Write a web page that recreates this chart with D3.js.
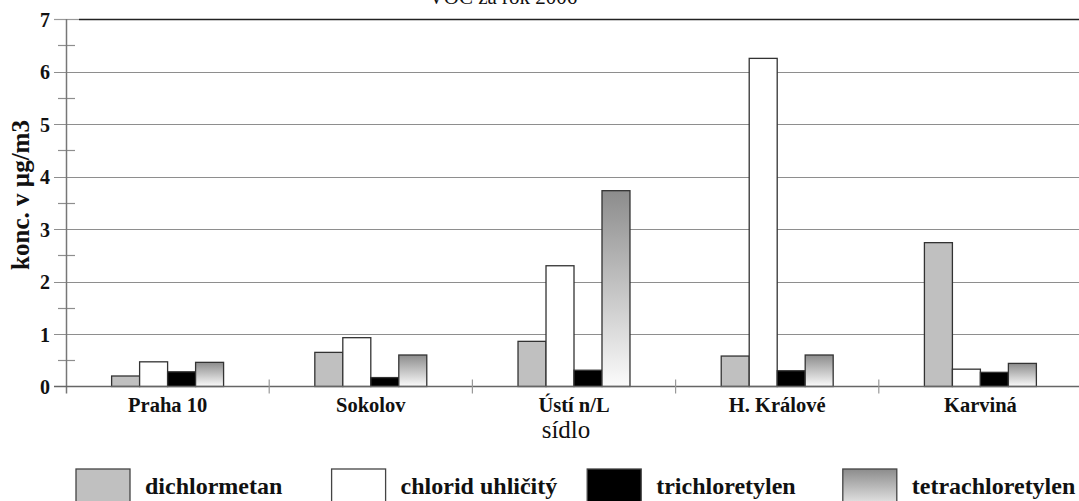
<!DOCTYPE html>
<html>
<head>
<meta charset="utf-8">
<script src="https://cdn.jsdelivr.net/npm/d3@7"></script>
<style>
  body { margin: 0; background: #fff; }
  svg { display: block; }
  text { font-family: "Liberation Serif", "Times New Roman", serif; fill: #111; }
</style>
</head>
<body>
<svg id="chart" width="1079" height="501"></svg>
<script>
// data (konc. v µg/m3)
const sites = ['Praha 10', 'Sokolov', 'Ústí n/L', 'H. Králové', 'Karviná'];
const compounds = ['dichlormetan', 'chlorid uhličitý', 'trichloretylen', 'tetrachloretylen'];
const dichlormetan = [0.20, 0.65, 0.86, 0.58, 2.74];
const chloridUhlicity = [0.47, 0.93, 2.30, 6.25, 0.33];
const trichloretylen = [0.28, 0.17, 0.31, 0.30, 0.27];
const tetrachloretylen = [0.46, 0.60, 3.73, 0.60, 0.44];
const yTicks = [0, 1, 2, 3, 4, 5, 6, 7];
const yMinorTicks = [0.5, 1.5, 2.5, 3.5, 4.5, 5.5, 6.5];
const title = 'VOC za rok 2006';
const xTitle = 'sídlo';
const yTitle = 'konc. v µg/m3';

const series = [dichlormetan, chloridUhlicity, trichloretylen, tetrachloretylen];
const fills = ['#c0c0c0', '#ffffff', '#000000', 'url(#tetra)'];

const width = 1079, height = 501;
const plot = {left: 66, right: 1082, top: 19, bottom: 386.5};

const svg = d3.select('#chart');

const defs = svg.append('defs');
const grad = defs.append('linearGradient').attr('id', 'tetra')
    .attr('x1', 0).attr('y1', 0).attr('x2', 0).attr('y2', 1);
grad.append('stop').attr('offset', '0%').attr('stop-color', '#8c8c8c');
grad.append('stop').attr('offset', '100%').attr('stop-color', '#fbfbfb');

const x0 = d3.scaleBand().domain(sites)
    .range([plot.left, plot.right])
    .paddingInner(0.449).paddingOuter(0.2245);
const x1 = d3.scaleBand().domain(compounds).range([0, x0.bandwidth()]);
const y = d3.scaleLinear().domain([0, 7]).range([plot.bottom, plot.top]);

// title, mostly cut off by the top edge
svg.append('text')
    .attr('x', 503).attr('y', 4)
    .attr('text-anchor', 'middle')
    .style('font-size', '21px')
    .text(title);

// grid lines
const grid = svg.append('g');
grid.selectAll('line.grid')
    .data(yTicks.filter(d => d > 0 && d < 7))
    .join('line').attr('class', 'grid')
    .attr('x1', 54).attr('x2', width)
    .attr('y1', d => Math.round(y(d)) + 0.5).attr('y2', d => Math.round(y(d)) + 0.5)
    .attr('stroke', '#8e8e8e').attr('stroke-width', 1.2);
// top border
grid.append('line')
    .attr('x1', 54).attr('x2', 79)
    .attr('y1', Math.round(y(7)) + 0.5).attr('y2', Math.round(y(7)) + 0.5)
    .attr('stroke', '#9a9a9a').attr('stroke-width', 1.2);
grid.append('line')
    .attr('x1', 79).attr('x2', width)
    .attr('y1', Math.round(y(7)) + 0.5).attr('y2', Math.round(y(7)) + 0.5)
    .attr('stroke', '#222').attr('stroke-width', 1.4);
// minor ticks
grid.selectAll('line.minor')
    .data(yMinorTicks)
    .join('line').attr('class', 'minor')
    .attr('x1', 58).attr('x2', 75)
    .attr('y1', d => Math.round(y(d)) + 0.5).attr('y2', d => Math.round(y(d)) + 0.5)
    .attr('stroke', '#8e8e8e').attr('stroke-width', 1.2);

// bars
const groups = svg.append('g').selectAll('g')
    .data(sites)
    .join('g')
    .attr('transform', d => `translate(${x0(d)},0)`);

groups.selectAll('rect')
    .data((site, i) => compounds.map((c, j) => ({c, v: series[j][i], j})))
    .join('rect')
    .attr('x', d => x1(d.c))
    .attr('width', x1.bandwidth())
    .attr('y', d => y(d.v))
    .attr('height', d => y(0) - y(d.v))
    .attr('fill', d => fills[d.j])
    .attr('stroke', '#333')
    .attr('stroke-width', 1.3);

// y axis
const yAxis = svg.append('g')
    .attr('transform', `translate(${plot.left},0)`)
    .call(d3.axisLeft(y).tickValues(yTicks).tickFormat(d3.format('d')).tickSize(0).tickPadding(16));
yAxis.select('.domain').remove();
yAxis.selectAll('text')
    .style('font-size', '20px').style('font-weight', 'bold')
    .attr('dy', '0.35em');
svg.append('line')
    .attr('x1', plot.left + 0.5).attr('x2', plot.left + 0.5)
    .attr('y1', y(7)).attr('y2', y(0) + 7)
    .attr('stroke', '#777').attr('stroke-width', 1.5);

// x axis
const xAxis = svg.append('g')
    .attr('transform', `translate(0,${y(0)})`)
    .call(d3.axisBottom(x0).tickSize(0).tickPadding(11));
xAxis.select('.domain').remove();
xAxis.selectAll('text')
    .style('font-size', '20.5px').style('font-weight', 'bold');
svg.append('line')
    .attr('x1', 54).attr('x2', width)
    .attr('y1', y(0)).attr('y2', y(0))
    .attr('stroke', '#666').attr('stroke-width', 1.5);
const step = x0.step();
svg.selectAll('line.sep')
    .data(sites.slice(1))
    .join('line').attr('class', 'sep')
    .attr('x1', d => x0(d) - step * x0.paddingInner() / 2)
    .attr('x2', d => x0(d) - step * x0.paddingInner() / 2)
    .attr('y1', y(0) - 7).attr('y2', y(0) + 7)
    .attr('stroke', '#999').attr('stroke-width', 1.2);

// axis titles
svg.append('text')
    .attr('x', 566).attr('y', 438)
    .attr('text-anchor', 'middle')
    .style('font-size', '25px')
    .text(xTitle);
svg.append('text')
    .attr('transform', 'translate(29,195) rotate(-90)')
    .attr('text-anchor', 'middle')
    .style('font-size', '25px').style('font-weight', 'bold')
    .text(yTitle);

// legend
const legend = svg.append('g').selectAll('g')
    .data(compounds)
    .join('g')
    .attr('transform', (d, i) => `translate(${76 + i * 255.6},469)`);
legend.append('rect')
    .attr('width', 54).attr('height', 44)
    .attr('fill', (d, i) => fills[i])
    .attr('stroke', '#444').attr('stroke-width', 1.3);
legend.append('text')
    .attr('x', 69).attr('y', 25)
    .style('font-size', '24px').style('font-weight', 'bold')
    .text(d => d);
</script>
</body>
</html>
